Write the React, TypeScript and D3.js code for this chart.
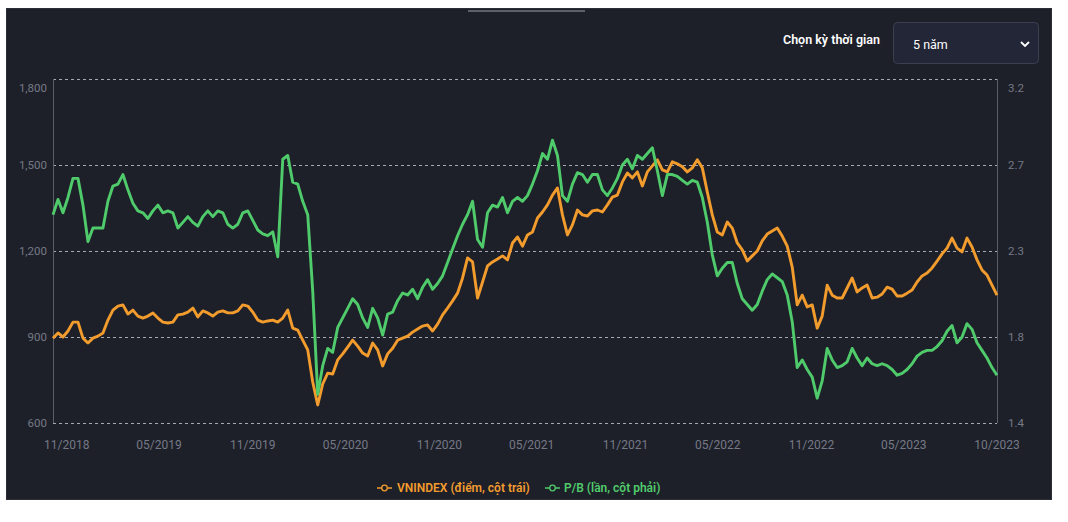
import * as d3 from 'd3'

const W = 1068
const H = 522

// sample dates run evenly between these two days
const startDate = new Date(2018, 9, 5)
const endDate = new Date(2023, 9, 31)

const vnindex = [
  896, 914, 900, 921, 952, 952, 896, 879, 896, 903,
  914, 959, 994, 1008, 1012, 980, 994, 973, 966, 973,
  984, 966, 952, 949, 952, 977, 980, 987, 1001, 970,
  991, 984, 973, 987, 991, 984, 984, 991, 1012, 1008,
  987, 959, 952, 956, 959, 952, 966, 994, 931, 924,
  889, 855, 743, 663, 736, 774, 771, 820, 841, 865,
  889, 868, 844, 834, 879, 855, 799, 841, 861, 889,
  896, 903, 917, 928, 938, 942, 921, 945, 977, 1001,
  1026, 1053, 1106, 1176, 1162, 1036, 1092, 1148, 1162, 1172,
  1183, 1169, 1228, 1249, 1217, 1256, 1266, 1315, 1336, 1361,
  1395, 1420, 1326, 1256, 1291, 1343, 1326, 1322, 1340, 1343,
  1336, 1361, 1388, 1395, 1441, 1472, 1455, 1476, 1427, 1476,
  1497, 1518, 1483, 1476, 1511, 1504, 1494, 1476, 1490, 1518,
  1490, 1406, 1326, 1266, 1256, 1301, 1280, 1228, 1204, 1165,
  1183, 1200, 1235, 1259, 1270, 1280, 1252, 1217, 1144, 1012,
  1046, 1005, 1012, 931, 973, 1081, 1046, 1036, 1036, 1071,
  1106, 1057, 1071, 1081, 1036, 1039, 1050, 1074, 1067, 1043,
  1043, 1053, 1064, 1092, 1113, 1123, 1141, 1165, 1190, 1210,
  1245, 1210, 1197, 1245, 1214, 1169, 1134, 1116, 1081, 1046,
]

const pb = [
  2.49, 2.57, 2.50, 2.58, 2.68, 2.68, 2.54, 2.35, 2.42, 2.42,
  2.42, 2.56, 2.64, 2.65, 2.70, 2.62, 2.55, 2.51, 2.50, 2.47,
  2.51, 2.54, 2.50, 2.51, 2.50, 2.42, 2.45, 2.48, 2.45, 2.43,
  2.48, 2.51, 2.48, 2.51, 2.50, 2.44, 2.42, 2.44, 2.50, 2.51,
  2.46, 2.41, 2.39, 2.38, 2.40, 2.27, 2.78, 2.80, 2.66, 2.65,
  2.56, 2.49, 2.09, 1.55, 1.70, 1.79, 1.77, 1.90, 1.95, 2.00,
  2.05, 2.02, 1.95, 1.90, 2.00, 1.95, 1.86, 1.97, 1.98, 2.04,
  2.08, 2.07, 2.10, 2.05, 2.11, 2.15, 2.10, 2.13, 2.17, 2.24,
  2.31, 2.38, 2.44, 2.49, 2.56, 2.36, 2.32, 2.50, 2.54, 2.53,
  2.58, 2.50, 2.56, 2.58, 2.56, 2.59, 2.65, 2.72, 2.81, 2.78,
  2.88, 2.80, 2.59, 2.56, 2.65, 2.71, 2.70, 2.66, 2.70, 2.70,
  2.62, 2.59, 2.63, 2.68, 2.75, 2.78, 2.73, 2.80, 2.78, 2.81,
  2.84, 2.72, 2.59, 2.70, 2.70, 2.69, 2.67, 2.65, 2.67, 2.66,
  2.58, 2.45, 2.28, 2.17, 2.21, 2.24, 2.24, 2.13, 2.05, 2.02,
  1.99, 2.02, 2.09, 2.15, 2.18, 2.16, 2.14, 2.07, 1.93, 1.69,
  1.73, 1.68, 1.64, 1.53, 1.62, 1.79, 1.73, 1.69, 1.70, 1.72,
  1.79, 1.74, 1.70, 1.74, 1.71, 1.70, 1.71, 1.70, 1.68, 1.65,
  1.66, 1.68, 1.71, 1.75, 1.77, 1.78, 1.78, 1.80, 1.83, 1.88,
  1.91, 1.82, 1.85, 1.92, 1.89, 1.82, 1.78, 1.74, 1.69, 1.65,
]

const leftTicks = [600, 900, 1200, 1500, 1800]
const rightTicks = [1.4, 1.85, 2.3, 2.75, 3.2]
const rightTickLabels = ['1.4', '1.8', '2.3', '2.7', '3.2']

const xTickDates = [
  '2018-11-01', '2019-05-01', '2019-11-01', '2020-05-01', '2020-11-01', '2021-05-01',
  '2021-11-01', '2022-05-01', '2022-11-01', '2023-05-01', '2023-10-31',
]
const xTickLabels = [
  '11/2018', '05/2019', '11/2019', '05/2020', '11/2020', '05/2021',
  '11/2021', '05/2022', '11/2022', '05/2023', '10/2023',
]

const ORANGE = '#f39c2e'
const GREEN = '#50cb6c'
const BG = '#1e2029'
const TICK = '#757986'
const FONT = 'Roboto, "Noto Sans", sans-serif'

export default function App() {
  const left = 53
  const right = 997
  const top = 79
  const bottom = 423

  const n = vnindex.length
  const dates = d3.range(n).map(
    (i) => new Date(+startDate + ((+endDate - +startDate) * i) / (n - 1)),
  )

  const x = d3.scaleTime().domain([startDate, endDate]).range([left, right])
  const yL = d3.scaleLinear().domain([600, 1800]).range([bottom, top])
  const yR = d3.scaleLinear().domain([1.4, 3.2]).range([bottom, top])

  const lineL = d3
    .line<number>()
    .x((_, i) => x(dates[i]))
    .y((d) => yL(d))
  const lineR = d3
    .line<number>()
    .x((_, i) => x(dates[i]))
    .y((d) => yR(d))

  const parse = d3.timeParse('%Y-%m-%d')

  return (
    <div style={{ position: 'absolute', left: 0, top: 0 }}>
      <svg width={W} height={H} style={{ display: 'block', background: '#fff', fontFamily: FONT }}>
        <rect x={6.5} y={8.5} width={1045} height={491} fill={BG} stroke="#2c2e38" />
        <line x1={468} x2={585} y1={11} y2={11} stroke="#5d606c" strokeWidth={2} />

        {/* period picker */}
        <text x={880} y={44} textAnchor="end" fill="#fff" fontSize={12.5} fontWeight={600}>
          Chọn kỳ thời gian
        </text>
        <rect x={893.5} y={22.5} width={145} height={41} rx={4} fill="#232637" stroke="#3c3f52" />
        <text x={913} y={49} fill="#fff" fontSize={12.5}>
          5 năm
        </text>
        <path d="M1021,42 L1025,46 L1029,42" fill="none" stroke="#fff" strokeWidth={1.8} />

        {/* grid */}
        {leftTicks.map((t) => (
          <line
            key={t}
            x1={left}
            x2={right}
            y1={Math.round(yL(t)) + 0.5}
            y2={Math.round(yL(t)) + 0.5}
            stroke="#c9cbd3"
            strokeOpacity={0.8}
            strokeDasharray="3,3"
          />
        ))}
        <line x1={left + 0.5} x2={left + 0.5} y1={top} y2={bottom} stroke="#5a5e6b" />
        <line x1={right + 0.5} x2={right + 0.5} y1={top} y2={bottom} stroke="#5a5e6b" />

        {/* y labels */}
        {leftTicks.map((t) => (
          <text
            key={t}
            x={47}
            y={Math.max(yL(t), top + 9)}
            dy="0.35em"
            textAnchor="end"
            fill={TICK}
            fontSize={11.5}
          >
            {d3.format(',')(t)}
          </text>
        ))}
        {rightTicks.map((t, i) => (
          <text
            key={t}
            x={1008}
            y={Math.max(yR(t), top + 9)}
            dy="0.35em"
            fill={TICK}
            fontSize={11.5}
          >
            {rightTickLabels[i]}
          </text>
        ))}

        {/* x labels */}
        {xTickDates.map((d, i) => (
          <text
            key={d}
            x={x(parse(d) as Date)}
            y={449}
            textAnchor="middle"
            fill={TICK}
            fontSize={12}
          >
            {xTickLabels[i]}
          </text>
        ))}

        {/* series */}
        <path d={lineL(vnindex) || ''} fill="none" stroke={ORANGE} strokeWidth={2.9} strokeLinejoin="round" />
        <path d={lineR(pb) || ''} fill="none" stroke={GREEN} strokeWidth={2.9} strokeLinejoin="round" />

        {/* legend */}
        <g fontSize={12} fontWeight={600}>
          <line x1={377} x2={392} y1={488} y2={488} stroke={ORANGE} strokeWidth={1.5} />
          <circle cx={384.5} cy={488} r={2.8} fill={BG} stroke={ORANGE} strokeWidth={1.3} />
          <text x={397} y={492} fill={ORANGE}>
            VNINDEX (điểm, cột trái)
          </text>
          <line x1={545} x2={560} y1={488} y2={488} stroke={GREEN} strokeWidth={1.5} />
          <circle cx={552.5} cy={488} r={2.8} fill={BG} stroke={GREEN} strokeWidth={1.3} />
          <text x={564} y={492} fill={GREEN}>
            P/B (lần, cột phải)
          </text>
        </g>
      </svg>
    </div>
  )
}
